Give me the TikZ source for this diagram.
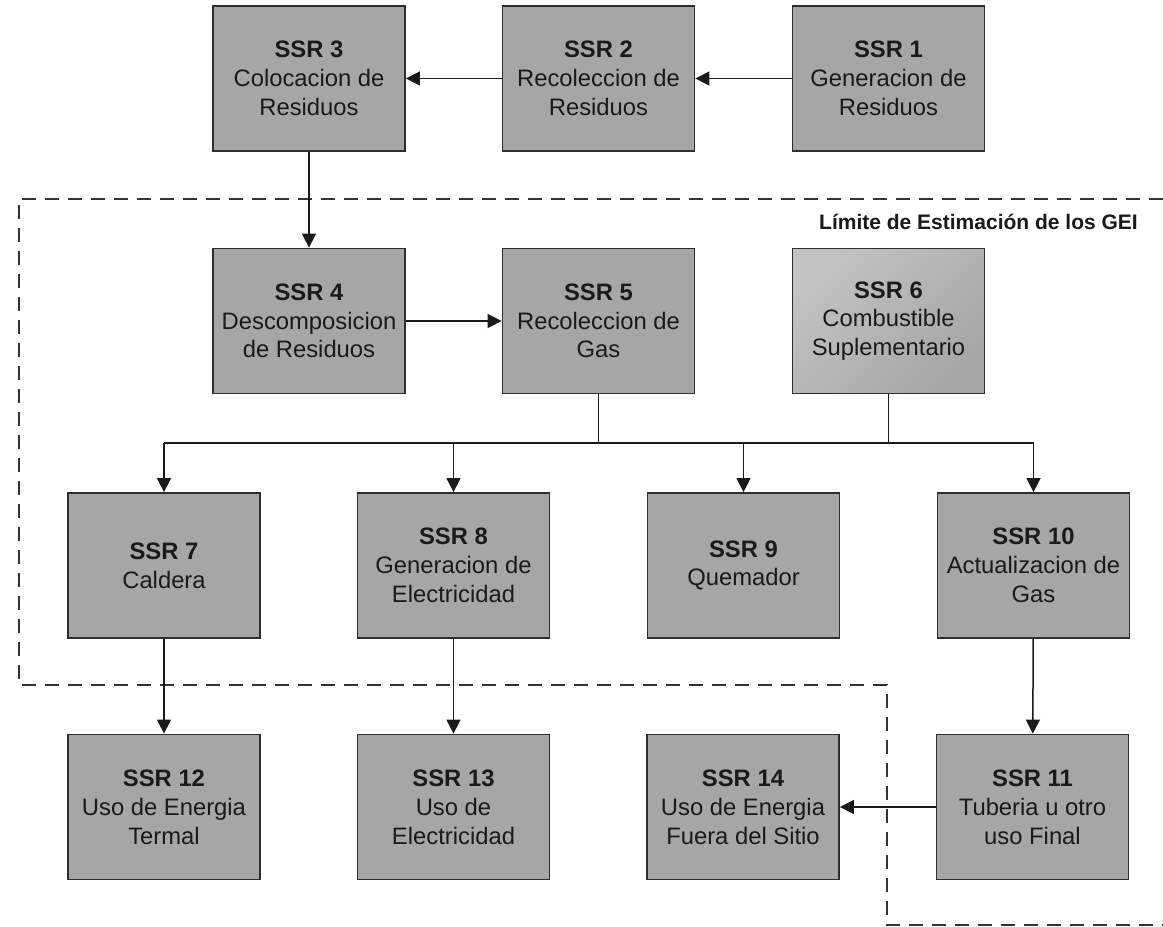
\documentclass[tikz,border=0pt]{standalone}
\usepackage{fontspec}
\setmainfont{Liberation Sans}
\usetikzlibrary{arrows.meta,positioning}
\definecolor{boxfill}{HTML}{A6A6A6}
\definecolor{boxlight}{HTML}{C2C2C2}
\definecolor{edgecol}{HTML}{2E2E2E}
\definecolor{txtcol}{HTML}{1A1A1A}
\definecolor{dashcol}{HTML}{333333}
\tikzset{
  ssrbox/.style={draw=edgecol, line width=1.8pt, fill=boxfill, rectangle,
    minimum width=192pt, minimum height=145pt, inner sep=0pt, align=center,
    text=txtcol, font=\fontsize{23.8}{28.8}\selectfont},
  conn/.style={draw=txtcol, line width=1.5pt, -{Triangle[length=14pt,width=14pt]}},
  plainconn/.style={draw=txtcol, line width=1.5pt},
  boundary/.style={draw=dashcol, line width=1.5pt, dash pattern=on 14pt off 9pt},
}
\begin{document}
\begin{tikzpicture}[x=1pt,y=-1pt]
\useasboundingbox (0,0) rectangle (1163,927);
% row 1
\node[ssrbox] (s3) at (309,78.5) {\textbf{SSR 3}\\Colocacion de\\Residuos};
\node[ssrbox] (s2) at (598.5,78.5) {\textbf{SSR 2}\\Recoleccion de\\Residuos};
\node[ssrbox] (s1) at (888.5,78.5) {\textbf{SSR 1}\\Generacion de\\Residuos};
% row 2
\node[ssrbox] (s4) at (309,321) {\textbf{SSR 4}\\Descomposicion\\de Residuos};
\node[ssrbox] (s5) at (598.5,321) {\textbf{SSR 5}\\Recoleccion de\\Gas};
\node[ssrbox, top color=boxlight, bottom color=boxfill, shading angle=45] (s6) at (888.5,321) {\textbf{SSR 6}\\Combustible\\Suplementario};
% row 3
\node[ssrbox] (s7) at (164,565.5) {\textbf{SSR 7}\\Caldera};
\node[ssrbox] (s8) at (453.5,565.5) {\textbf{SSR 8}\\Generacion de\\Electricidad};
\node[ssrbox] (s9) at (743.5,565.5) {\textbf{SSR 9}\\Quemador};
\node[ssrbox] (s10) at (1033.5,565.5) {\textbf{SSR 10}\\Actualizacion de\\Gas};
% row 4
\node[ssrbox] (s12) at (164,807) {\textbf{SSR 12}\\Uso de Energia\\Termal};
\node[ssrbox] (s13) at (453.5,807) {\textbf{SSR 13}\\Uso de\\Electricidad};
\node[ssrbox] (s14) at (743,807) {\textbf{SSR 14}\\Uso de Energia\\Fuera del Sitio};
\node[ssrbox] (s11) at (1032.5,807) {\textbf{SSR 11}\\Tuberia u otro\\uso Final};
% boundary
\coordinate (bA) at (1163,199);
\coordinate (bB) at (19,199);
\coordinate (bC) at (19,685);
\coordinate (bD) at (887,685);
\coordinate (bE) at (887,925);
\coordinate (bF) at (1163,925);
\draw[boundary] (bA) -- (bB) -- (bC) -- (bD) -- (bE) -- (bF);
\node[anchor=east, inner sep=0pt, text=txtcol, font=\bfseries\fontsize{21}{24}\selectfont] (lim) at (1138,222) {Límite de Estimación de los GEI};
% connectors
\draw[conn] (s1) -- (s2);
\draw[conn] (s2) -- (s3);
\draw[conn] (s3) -- (s4);
\draw[conn] (s4) -- (s5);
\coordinate (bus) at (0,443);
\draw[plainconn] (s5.south) -- (s5.south |- bus);
\draw[plainconn] (s6.south) -- (s6.south |- bus);
\draw[plainconn] (s7.north |- bus) -- (s10.north |- bus);
\draw[conn] (s7.north |- bus) -- (s7.north);
\draw[conn] (s8.north |- bus) -- (s8.north);
\draw[conn] (s9.north |- bus) -- (s9.north);
\draw[conn] (s10.north |- bus) -- (s10.north);
\draw[conn] (s7) -- (s12);
\draw[conn] (s8) -- (s13);
\draw[conn] (s10) -- (s11);
\draw[conn] (s11) -- (s14);
\end{tikzpicture}
\end{document}
